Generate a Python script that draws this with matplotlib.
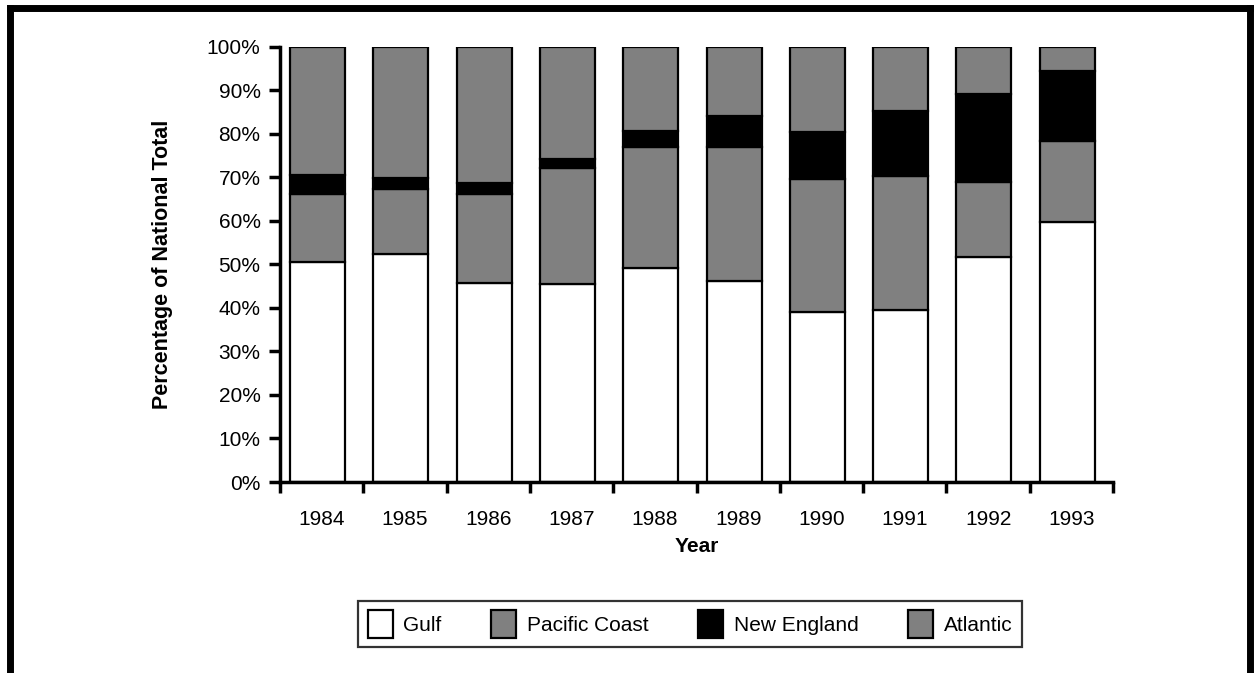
import matplotlib
matplotlib.use("Agg")
import matplotlib.pyplot as plt
from matplotlib.lines import Line2D
from matplotlib.ticker import FixedLocator, NullFormatter, PercentFormatter
import numpy as np

plt.rcParams['font.family'] = ['Liberation Sans', 'DejaVu Sans']

years = ['1984', '1985', '1986', '1987', '1988', '1989', '1990', '1991', '1992', '1993']
gulf = [50.5, 52.5, 45.7, 45.5, 49.3, 46.1, 39.0, 39.5, 51.8, 59.8]
pacific_coast = [15.7, 14.9, 20.4, 26.6, 27.8, 31.0, 30.7, 30.8, 17.2, 18.6]
new_england = [4.4, 2.4, 2.7, 2.2, 3.7, 7.0, 10.7, 15.0, 20.1, 16.1]
atlantic = [29.4, 30.2, 31.2, 25.7, 19.2, 15.9, 19.6, 14.7, 10.9, 5.5]

series = [
    ('Gulf', gulf, 'white'),
    ('Pacific Coast', pacific_coast, '#808080'),
    ('New England', new_england, 'black'),
    ('Atlantic', atlantic, '#808080'),
]

FS = 15

fig = plt.figure(figsize=(12.54, 6.73), dpi=100)
ax = fig.add_axes([0.2233, 0.2838, 0.6643, 0.6464])

x = np.arange(len(years))
bottom = np.zeros(len(years))
for name, vals, color in series:
    vals = np.array(vals)
    ax.bar(x - 0.05, vals, bottom=bottom, width=0.66, color=color,
           edgecolor='black', linewidth=1.6, label=name, zorder=2)
    bottom += vals

ax.set_xlim(-0.5, len(years) - 0.5)
ax.set_ylim(0, 100)
ax.set_yticks(np.arange(0, 101, 10))
ax.yaxis.set_major_formatter(PercentFormatter(decimals=0))

# category labels centred, tick marks between categories
ax.set_xticks(x)
ax.set_xticklabels(years)
ax.xaxis.set_minor_locator(FixedLocator(np.arange(-0.5, len(years), 1.0)))
ax.xaxis.set_minor_formatter(NullFormatter())
ax.tick_params(axis='x', which='major', length=0, pad=20, labelsize=FS)
ax.tick_params(axis='x', which='minor', length=8, width=2.5, direction='out')
ax.tick_params(axis='y', length=8, width=2.5, direction='out', pad=6, labelsize=FS)

for side in ('top', 'right'):
    ax.spines[side].set_visible(False)
for side in ('left', 'bottom'):
    ax.spines[side].set_linewidth(2.5)

ax.set_xlabel('Year', fontsize=FS, fontweight='bold', labelpad=6)
ax.set_ylabel('Percentage of National Total', fontsize=15.5, fontweight='bold', labelpad=24)

leg = fig.legend(loc='center', ncol=4, fontsize=FS, frameon=True, fancybox=False,
                 shadow=False, handlelength=1.2, handleheight=1.7, columnspacing=2.4,
                 handletextpad=0.5, borderpad=0.45)
leg.set_bbox_to_anchor((690 / 1254, 1 - 624 / 673), transform=fig.transFigure)
leg.get_frame().set_edgecolor('black')
leg.get_frame().set_linewidth(1.6)
for h in leg.legend_handles:
    h.set_linewidth(1.6)

# outer border of the figure (open at the bottom)
lw = 5
fig.add_artist(Line2D([10 / 1254, 10 / 1254], [0, 1 - 8 / 673], color='black', lw=lw,
                      transform=fig.transFigure, solid_capstyle='projecting'))
fig.add_artist(Line2D([10 / 1254, 1250 / 1254], [1 - 8 / 673, 1 - 8 / 673], color='black', lw=lw,
                      transform=fig.transFigure, solid_capstyle='projecting'))
fig.add_artist(Line2D([1250 / 1254, 1250 / 1254], [0, 1 - 8 / 673], color='black', lw=lw,
                      transform=fig.transFigure, solid_capstyle='projecting'))

fig.savefig('out.png', dpi=100)
